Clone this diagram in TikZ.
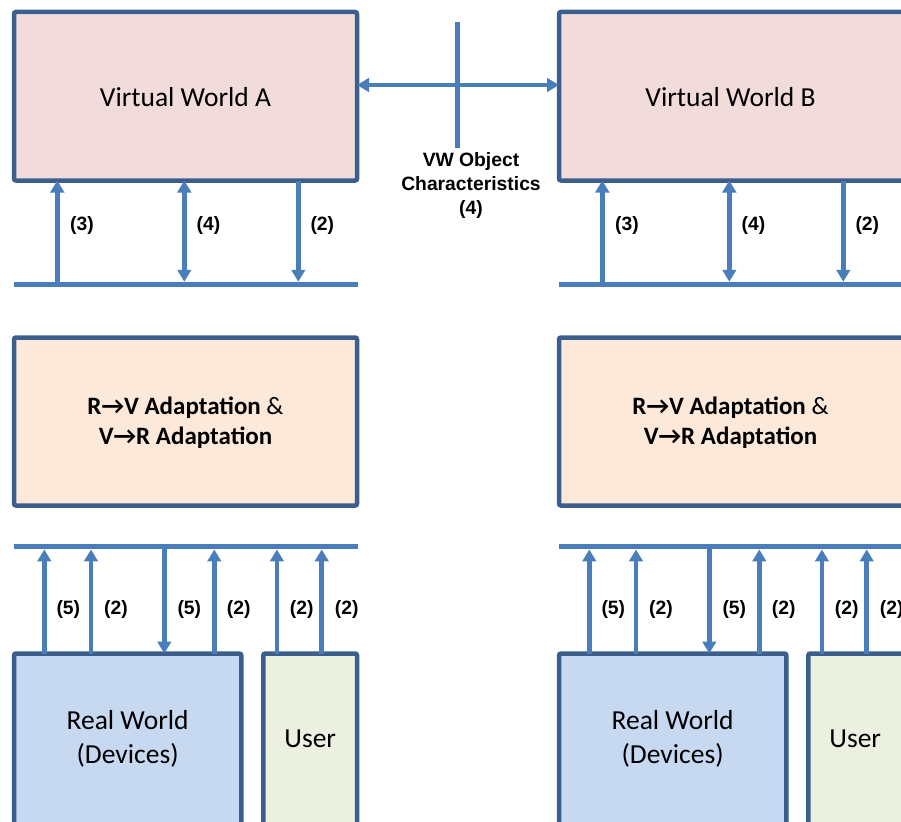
\documentclass[tikz,border=0pt]{standalone}
\usepackage{fontspec}
\setmainfont{Carlito}
\newfontfamily\labfont{Liberation Sans}
\usetikzlibrary{arrows.meta,calc}
\definecolor{bord}{HTML}{3B5E8C}
\definecolor{arrc}{HTML}{4A7EBB}
\definecolor{vwfill}{HTML}{F2DCDB}
\definecolor{adfill}{HTML}{FDE9D9}
\definecolor{rwfill}{HTML}{C6D9F1}
\definecolor{usfill}{HTML}{EBF1DE}
\begin{document}
\begin{tikzpicture}[x=1pt,y=-1pt,
  box/.style={draw=bord,line width=4.5pt,rounded corners=2pt,outer sep=0pt,inner sep=0pt,anchor=north west},
  txt/.style={font=\fontsize{27.5}{33.5}\selectfont,align=center,inner sep=0pt},
  adtxt/.style={font=\fontsize{25}{30}\selectfont\bfseries,align=center,inner sep=0pt},
  lbl/.style={font=\labfont\bfseries\fontsize{19.3}{24}\selectfont,align=center,inner sep=0pt},
  bus/.style={fill=arrc,draw=none,inner sep=0pt,outer sep=0pt,minimum height=5.5pt,anchor=west},
  arr/.style={draw=arrc,line width=4.5pt,-{Triangle[length=12pt,width=13.5pt]}},
  biarr/.style={draw=arrc,line width=4.5pt,{Triangle[length=12pt,width=13.5pt]}-{Triangle[length=12pt,width=13.5pt]}},
  plain/.style={draw=arrc,line width=4.5pt}]
\useasboundingbox (0,0) rectangle (901,821);
\clip (0,0) rectangle (901,821);
\foreach \s/\n/\e in {0/A/0,545/B/17}{
\begin{scope}[xshift=\s pt]
  % upper part
  \node[box,fill=vwfill,minimum width=343pt+\e pt,minimum height=168.5pt] (vw\n) at (14,12) {};
  \node[txt] (vw\n t) at (185.5,97) {Virtual World \n};
  \node[bus,minimum width=344pt+\e pt] (bu\n) at (14,284.5) {};
  \coordinate (x\n a) at (57.3,0);
  \coordinate (x\n b) at (184.3,0);
  \coordinate (x\n c) at (298.3,0);
  \draw[arr] (bu\n.center -| x\n a) -- (vw\n.south -| x\n a);
  \draw[biarr] (bu\n.north -| x\n b) -- (vw\n.south -| x\n b);
  \draw[arr] (vw\n.south -| x\n c) -- (bu\n.north -| x\n c);
  \node[lbl] (l\n a) at (82,226) {(3)};
  \node[lbl] (l\n b) at (208.5,226) {(4)};
  \node[lbl] (l\n c) at (322.3,226) {(2)};
  % adaptation
  \node[box,fill=adfill,minimum width=343pt+\e pt,minimum height=168pt] (ad\n) at (14,337.5) {};
  \node[adtxt] (ad\n t) at (185.5,423) {R→V Adaptation {\mdseries\&}\\V→R Adaptation};
  % lower part
  \node[bus,minimum width=344pt+\e pt] (bl\n) at (14,546.7) {};
  \node[box,fill=rwfill,minimum width=227.3pt,minimum height=185pt] (rw\n) at (14,653.5) {};
  \node[txt] (rw\n t) at (127.6,739) {Real World\\(Devices)};
  \node[box,fill=usfill,minimum width=93.7pt+\e pt,minimum height=185pt] (us\n) at (263.3,653.5) {};
  \node[txt] (us\n t) at (310.2,739) {User};
  \coordinate (y\n a) at (44.3,0);
  \coordinate (y\n b) at (91,0);
  \coordinate (y\n c) at (164.3,0);
  \coordinate (y\n d) at (214.3,0);
  \coordinate (y\n e) at (276.9,0);
  \coordinate (y\n f) at (321.7,0);
  \draw[arr] (rw\n.north -| y\n a) -- (bl\n.south -| y\n a);
  \draw[arr] (rw\n.north -| y\n b) -- (bl\n.south -| y\n b);
  \draw[arr] (bl\n.center -| y\n c) -- (rw\n.north -| y\n c);
  \draw[arr] (rw\n.north -| y\n d) -- (bl\n.south -| y\n d);
  \draw[arr] (us\n.north -| y\n e) -- (bl\n.south -| y\n e);
  \draw[arr] (us\n.north -| y\n f) -- (bl\n.south -| y\n f);
  \node[lbl] (m\n a) at (68.3,610) {(5)};
  \node[lbl] (m\n b) at (116,610) {(2)};
  \node[lbl] (m\n c) at (189.3,610) {(5)};
  \node[lbl] (m\n d) at (238.7,610) {(2)};
  \node[lbl] (m\n e) at (301.7,610) {(2)};
  \node[lbl] (m\n f) at (346.7,610) {(2)};
\end{scope}
}
% link between the two virtual worlds
\coordinate (hy) at (0,85);
\draw[biarr] (vwA.east |- hy) -- (vwB.west |- hy);
\coordinate (vtop) at (457.3,21.7);
\coordinate (vbot) at (457.3,148.3);
\draw[plain] (vtop) -- (vbot);
\node[lbl] (vwobj) at (471,186) {VW Object\\Characteristics\\(4)};
\end{tikzpicture}
\end{document}
